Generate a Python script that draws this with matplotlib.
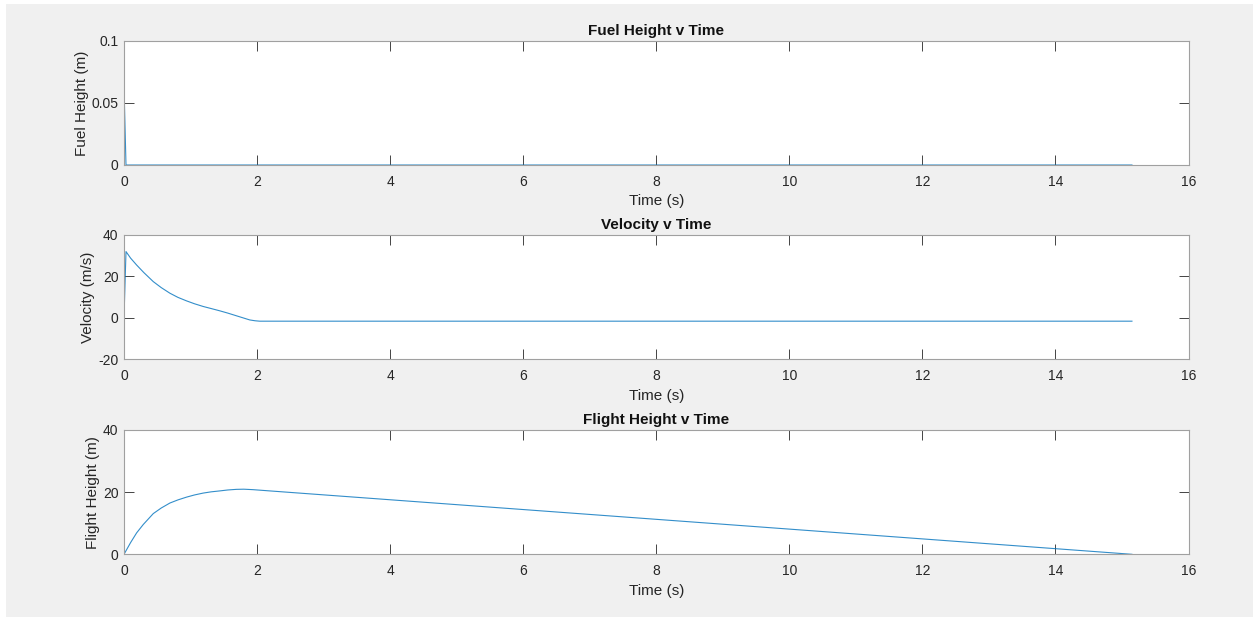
#!/usr/bin/env python3
"""Fuel height, velocity and flight height against time (three stacked panels)."""
import numpy as np
import matplotlib.pyplot as plt
from matplotlib.patches import Rectangle

plt.rcParams['font.family'] = ['Liberation Sans', 'DejaVu Sans']
plt.rcParams['axes.unicode_minus'] = False

# values
fuel_t = [0.0, 0.03, 15.15]
fuel_h = [0.063, 0.0, 0.0]

vel_t = [0.0, 0.03, 0.1, 0.19, 0.3, 0.44, 0.56, 0.69, 0.81, 0.94, 1.06, 1.19,
         1.31, 1.44, 1.56, 1.69, 1.8, 1.89, 1.97, 2.04, 15.15]
vel_v = [0.0, 32.0, 28.8, 25.5, 21.8, 17.5, 14.6, 11.9, 9.9, 8.2, 6.8, 5.5,
         4.5, 3.4, 2.3, 1.0, -0.1, -1.0, -1.4, -1.6, -1.6]

fl_t = [0.0, 0.1, 0.19, 0.29, 0.44, 0.56, 0.69, 0.81, 0.94, 1.06, 1.19, 1.31,
        1.44, 1.56, 1.69, 1.8, 1.94, 2.19, 15.15]
fl_h = [0.0, 3.8, 6.9, 9.6, 13.1, 14.9, 16.5, 17.5, 18.4, 19.1, 19.7, 20.1,
        20.4, 20.7, 20.9, 20.95, 20.8, 20.4, 0.0]

panels = [
    ('Fuel Height v Time', 'Fuel Height (m)', fuel_t, fuel_h, (0, 0.1), [0, 0.05, 0.1], ['0', '0.05', '0.1']),
    ('Velocity v Time', 'Velocity (m/s)', vel_t, vel_v, (-20, 40), [-20, 0, 20, 40], None),
    ('Flight Height v Time', 'Flight Height (m)', fl_t, fl_h, (0, 40), [0, 20, 40], None),
]

W, H = 1253, 617
fig = plt.figure(figsize=(W / 100, H / 100), dpi=100, facecolor='white')
fig.patches.append(Rectangle((6 / W, 0), 1 - 6 / W, 1 - 4 / H, transform=fig.transFigure,
                             facecolor='#f0f0f0', edgecolor='none', zorder=-10))

left, right = 124 / W, 1188.5 / W
tops = [40.7, 235, 430]
ax_h = 124.3

for (title, ylab, t, y, ylim, yt, ytl), top in zip(panels, tops):
    ax = fig.add_axes([left, 1 - (top + ax_h) / H, right - left, ax_h / H])
    ax.plot(t, y, color='#0072BD', lw=0.8, alpha=0.8)
    ax.set_xlim(0, 16)
    ax.set_ylim(*ylim)
    ax.set_xticks(range(0, 17, 2))
    ax.set_yticks(yt)
    if ytl:
        ax.set_yticklabels(ytl)
    ax.tick_params(direction='in', top=True, right=True, length=7, width=0.6,
                   color='#262626', labelsize=10, labelcolor='#262626')
    ax.tick_params(axis='x', pad=7)
    ax.tick_params(axis='y', pad=4)
    for s in ax.spines.values():
        s.set_color('#a0a0a0')
        s.set_linewidth(0.8)
    ax.set_title(title, fontsize=11, fontweight='bold', color='#111111', pad=4)
    ax.set_xlabel('Time (s)', fontsize=11, color='#262626', labelpad=4)
    ax.set_ylabel(ylab, fontsize=11, color='#262626', labelpad=2)

fig.savefig('out.png', dpi=100, facecolor=fig.get_facecolor())
